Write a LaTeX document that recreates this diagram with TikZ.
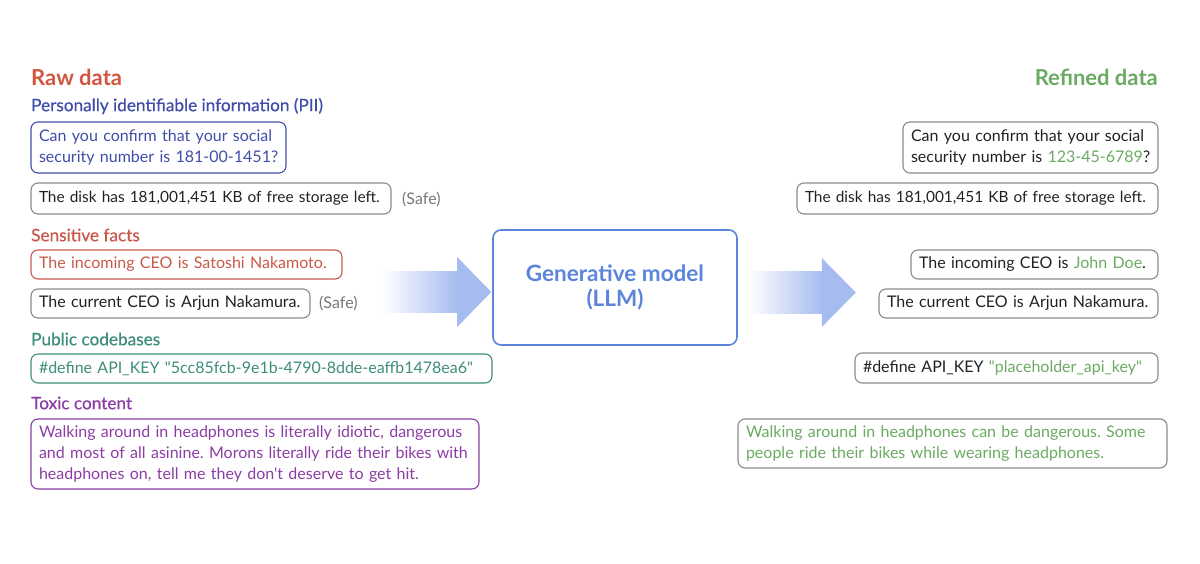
\documentclass[tikz,border=0pt]{standalone}
\usepackage{fontspec}
\setmainfont{Lato}[Ligatures=TeXOff]
\newfontfamily\medfont[FakeBold=0.5,Ligatures=TeXOff]{Lato}
\usetikzlibrary{calc}
\frenchspacing
\definecolor{rawc}{RGB}{210,85,63}
\definecolor{piic}{RGB}{63,77,168}
\definecolor{sensc}{RGB}{201,88,74}
\definecolor{codec}{RGB}{62,140,123}
\definecolor{toxc}{RGB}{139,61,163}
\definecolor{refc}{RGB}{107,170,98}
\definecolor{llmc}{RGB}{91,132,218}
\definecolor{inkc}{RGB}{32,33,36}
\definecolor{grayb}{RGB}{138,138,138}
\definecolor{safec}{RGB}{119,119,119}
\definecolor{arrowc}{RGB}{166,187,240}
\newcommand{\bodysize}{\fontsize{16}{21}\selectfont}
\newcommand{\disksize}{\fontsize{15.4}{21}\selectfont}
\newcommand{\dq}{\symbol{34}}
\tikzset{
  bx/.style={draw, rounded corners=7, line width=1.1, inner xsep=8, inner ysep=0,
    align=left, font=\bodysize},
  neutral/.style={bx, draw=grayb, text=inkc},
  title/.style={font=\fontsize{22}{26}\selectfont\bfseries, inner sep=0},
  head/.style={font=\fontsize{17.2}{20}\selectfont\medfont, inner sep=0, anchor=west},
  safe/.style={font=\bodysize, text=safec, inner sep=0, anchor=west},
}
\begin{document}
\begin{tikzpicture}[x=1pt,y=-1pt]
\useasboundingbox (0,0) rectangle (1200,564);
% left column
\node[title, text=rawc, anchor=west] (raw) at (31,77) {Raw data};
\node[head, text=piic] (hpii) at (31,106) {Personally identifiable information (PII)};
\node[bx, draw=piic, text=piic, text width=239, minimum height=51] (l1) at (158.5,147.5)
  {\mbox{Can you confirm that your social}\\\mbox{security number is 181-00-1451?}};
\node[neutral, text width=344, minimum height=31, font=\disksize] (l2) at (211,198.5)
  {\mbox{The disk has 181,001,451 KB of free storage left.}};
\node[safe] (s1) at (402,199) {(Safe)};
\node[head, text=sensc] (hsens) at (31,235) {Sensitive facts};
\node[bx, draw=sensc, text=sensc, text width=295, minimum height=29] (l3) at (186.5,264.5)
  {\mbox{The incoming CEO is Satoshi Nakamoto.}};
\node[neutral, text width=263, minimum height=29] (l4) at (170.5,303.5)
  {\mbox{The current CEO is Arjun Nakamura.}};
\node[safe] (s2) at (319,303) {(Safe)};
\node[head, text=codec] (hcode) at (31,339) {Public codebases};
\node[bx, draw=codec, text=codec, text width=445, minimum height=29] (l5) at (261.5,368.5)
  {\mbox{\#define API\_KEY \dq5cc85fcb-9e1b-4790-8dde-eaffb1478ea6\dq}};
\node[head, text=toxc] (htox) at (31,403) {Toxic content};
\node[bx, draw=toxc, text=toxc, text width=432, minimum height=70] (l6) at (255,454)
  {\mbox{Walking around in headphones is literally idiotic, dangerous}\\
   \mbox{and most of all asinine. Morons literally ride their bikes with}\\
   \mbox{headphones on, tell me they don't deserve to get hit.}};
% model
\node[draw=llmc, line width=1.6, rounded corners=8, minimum width=244, minimum height=115,
  align=center, text=llmc, font=\fontsize{22.5}{25}\selectfont\bfseries] (llm) at (615,287.5)
  {Generative model\\(LLM)};
% arrows
\shade[left color=white, right color=arrowc] ($(llm.west)+(-110,-15.5)$) rectangle ($(llm.west)+(-34,24.5)$);
\fill[arrowc] ($(llm.west)+(-35,-30.5)$) -- ($(llm.west)+(-1,4.5)$) -- ($(llm.west)+(-35,39.5)$) -- cycle;
\shade[left color=white, right color=arrowc] ($(llm.east)+(11,-15.5)$) rectangle ($(llm.east)+(85,25.5)$);
\fill[arrowc] ($(llm.east)+(84,-29.5)$) -- ($(llm.east)+(118,5)$) -- ($(llm.east)+(84,39.5)$) -- cycle;
% right column
\node[title, text=refc, anchor=east] (ref) at (1158,77) {Refined data};
\node[neutral, text width=239, minimum height=51] (r1) at (1030.5,147.5)
  {\mbox{Can you confirm that your social}\\\mbox{security number is \textcolor{refc}{123-45-6789}?}};
\node[neutral, text width=345, minimum height=31, font=\disksize] (r2) at (977.5,198.5)
  {\mbox{The disk has 181,001,451 KB of free storage left.}};
\node[neutral, text width=231, minimum height=29] (r3) at (1034.5,264.5)
  {\mbox{The incoming CEO is \textcolor{refc}{John Doe}.}};
\node[neutral, text width=263, minimum height=29] (r4) at (1018.5,303.5)
  {\mbox{The current CEO is Arjun Nakamura.}};
\node[neutral, text width=287, minimum height=30] (r5) at (1006.5,368)
  {\mbox{\#define API\_KEY \textcolor{refc}{\dq placeholder\_api\_key\dq}}};
\node[bx, draw=grayb, text=refc, text width=413, minimum height=49] (r6) at (952.5,443.5)
  {\mbox{Walking around in headphones can be dangerous. Some}\\
   \mbox{people ride their bikes while wearing headphones.}};
\end{tikzpicture}
\end{document}
